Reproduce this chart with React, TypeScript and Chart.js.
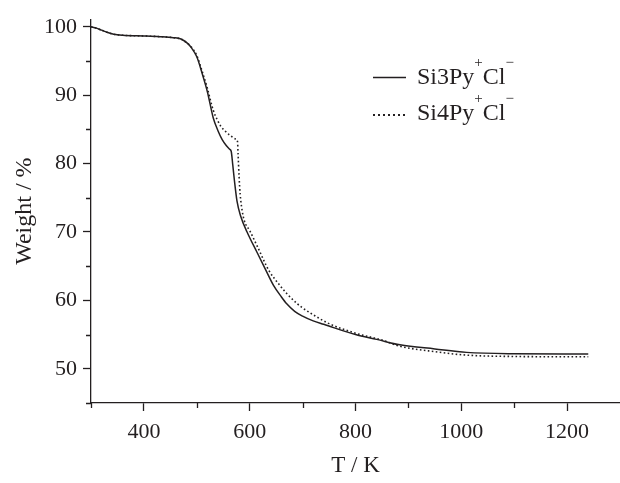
import React, { useEffect, useRef } from 'react';
import { Chart, registerables } from 'chart.js';

Chart.register(...registerables);

// ---- data ----
const SERIES_NAMES = ['Si3Py', 'Si4Py'];

const TEMPS_SI3 = [300, 310, 320, 330, 343, 360, 400, 430, 456, 470, 482, 490, 500, 510, 520, 531, 540, 548, 556, 562, 565, 568, 571, 576, 583, 595, 614, 630, 645, 660, 670, 685, 700, 720, 740, 800, 840, 884, 950, 1010, 1100, 1240];
const WEIGHT_SI3 = [100, 99.8, 99.5, 99.2, 98.9, 98.75, 98.65, 98.55, 98.4, 98.2, 97.6, 96.9, 95.6, 93.2, 90.5, 86.7, 84.8, 83.5, 82.6, 82.1, 81.8, 79.8, 77.6, 74.5, 72.3, 70.0, 67.0, 64.5, 62.2, 60.5, 59.5, 58.4, 57.7, 57.0, 56.5, 55.0, 54.3, 53.5, 52.9, 52.4, 52.2, 52.15];

const TEMPS_SI4 = [300, 310, 320, 330, 343, 360, 400, 430, 456, 470, 482, 490, 500, 510, 520, 531, 540, 545, 557, 565, 573, 577, 578, 580, 582, 586, 590, 600, 615, 636, 657, 670, 690, 700, 720, 750, 800, 850, 884, 950, 1010, 1100, 1240];
const WEIGHT_SI4 = [100, 99.8, 99.5, 99.2, 98.9, 98.75, 98.65, 98.55, 98.4, 98.2, 97.6, 97.0, 95.8, 93.5, 91.0, 87.8, 86.2, 85.5, 84.5, 84.0, 83.6, 83.2, 81.5, 78.0, 75.5, 73.0, 71.6, 70.2, 67.8, 64.4, 62.2, 61.0, 59.5, 58.9, 57.9, 56.6, 55.2, 54.2, 53.3, 52.5, 52.0, 51.8, 51.75];

const X_MAJOR = [400, 600, 800, 1000, 1200];
const X_MINOR = [300, 500, 700, 900, 1100];
const Y_MAJOR = [50, 60, 70, 80, 90, 100];
const Y_MINOR = [45, 55, 65, 75, 85, 95];

const INK = '#231f20';
const FAMILY = '"Liberation Serif", "Times New Roman", serif';

const toPoints = (xs: number[], ys: number[]) => xs.map((x, i) => ({ x, y: ys[i] }));

const minorTicksPlugin = {
  id: 'minorTicks',
  afterDraw(chart: any) {
    const { ctx, scales } = chart;
    const xs = scales.x;
    const ys = scales.y;
    ctx.save();
    ctx.strokeStyle = INK;
    ctx.lineWidth = 1.3;
    ctx.beginPath();
    X_MINOR.forEach((v) => {
      const px = Math.round(xs.getPixelForValue(v)) + 0.5;
      ctx.moveTo(px, ys.bottom);
      ctx.lineTo(px, ys.bottom + 5);
    });
    Y_MINOR.forEach((v) => {
      const py = Math.round(ys.getPixelForValue(v)) + 0.5;
      ctx.moveTo(xs.left, py);
      ctx.lineTo(xs.left - 5, py);
    });
    ctx.stroke();
    ctx.restore();
  },
};

const legendPlugin = {
  id: 'texLegend',
  afterDraw(chart: any) {
    const { ctx } = chart;
    ctx.save();
    ctx.fillStyle = INK;
    ctx.strokeStyle = INK;
    const rows = [84, 120];
    chart.data.datasets.forEach((ds: any, i: number) => {
      const base = rows[i];
      ctx.beginPath();
      ctx.lineWidth = i === 0 ? 1.4 : 2;
      ctx.setLineDash(i === 0 ? [] : [2, 3]);
      const sy = i === 0 ? base - 6.5 : base - 5;
      ctx.moveTo(373, sy);
      ctx.lineTo(406, sy);
      ctx.stroke();
      ctx.setLineDash([]);
      ctx.textBaseline = 'alphabetic';
      ctx.textAlign = 'left';
      let x = 417;
      ctx.font = `24px ${FAMILY}`;
      ctx.fillText(SERIES_NAMES[i], x, base);
      x += ctx.measureText(SERIES_NAMES[i]).width;
      ctx.font = `15px ${FAMILY}`;
      ctx.fillText('+', x, base - 17);
      x += ctx.measureText('+').width;
      ctx.font = `24px ${FAMILY}`;
      ctx.fillText('Cl', x, base);
      x += ctx.measureText('Cl').width;
      ctx.font = `15px ${FAMILY}`;
      ctx.fillText('\u2212', x, base - 17);
    });
    ctx.restore();
  },
};

export default function App() {
  const ref = useRef<HTMLCanvasElement>(null);

  useEffect(() => {
    document.body.style.margin = '0';
    const canvas = ref.current;
    if (!canvas) return;
    const chart = new Chart(canvas, {
      type: 'line',
      data: {
        datasets: [
          {
            label: SERIES_NAMES[0],
            data: toPoints(TEMPS_SI3, WEIGHT_SI3),
            borderColor: INK,
            borderWidth: 1.5,
            pointRadius: 0,
            cubicInterpolationMode: 'monotone',
            fill: false,
          },
          {
            label: SERIES_NAMES[1],
            data: toPoints(TEMPS_SI4, WEIGHT_SI4),
            borderColor: INK,
            borderWidth: 1.6,
            borderDash: [1.6, 2.4],
            pointRadius: 0,
            cubicInterpolationMode: 'monotone',
            fill: false,
          },
        ],
      },
      options: {
        responsive: false,
        animation: false,
        layout: { padding: { top: 13, right: 0, left: 0, bottom: 0 } },
        plugins: { legend: { display: false }, tooltip: { enabled: false } },
        scales: {
          x: {
            type: 'linear',
            min: 300,
            max: 1300,
            afterBuildTicks: (s: any) => {
              s.ticks = X_MAJOR.map((value) => ({ value }));
            },
            afterFit: (s: any) => {
              s.height = 80;
            },
            grid: { drawOnChartArea: false, drawTicks: true, tickLength: 8, tickColor: INK, tickWidth: 1.3 },
            border: { display: true, color: INK, width: 1.3 },
            ticks: {
              font: { family: FAMILY, size: 22 },
              color: INK,
              padding: 8,
              maxRotation: 0,
              autoSkip: false,
              callback: (v: any) => String(v),
            },
            title: { display: true, text: 'T / K', font: { family: FAMILY, size: 23 }, color: INK, padding: { top: 0, bottom: 3 } },
          },
          y: {
            type: 'linear',
            min: 45,
            max: 101.1,
            afterBuildTicks: (s: any) => {
              s.ticks = Y_MAJOR.map((value) => ({ value }));
            },
            afterFit: (s: any) => {
              s.width = 91;
            },
            grid: { drawOnChartArea: false, drawTicks: true, tickLength: 8, tickColor: INK, tickWidth: 1.3 },
            border: { display: true, color: INK, width: 1.3 },
            ticks: {
              font: { family: FAMILY, size: 22 },
              color: INK,
              padding: 6,
              autoSkip: false,
              callback: (v: any) => String(v),
            },
            title: { display: true, text: 'Weight / %', font: { family: FAMILY, size: 24 }, color: INK, padding: { top: 10, bottom: 0 } },
          },
        },
      },
      plugins: [minorTicksPlugin, legendPlugin],
    } as any);
    return () => chart.destroy();
  }, []);

  return (
    <div style={{ width: 620, height: 483 }}>
      <canvas ref={ref} width={620} height={483} style={{ display: 'block' }} />
    </div>
  );
}
